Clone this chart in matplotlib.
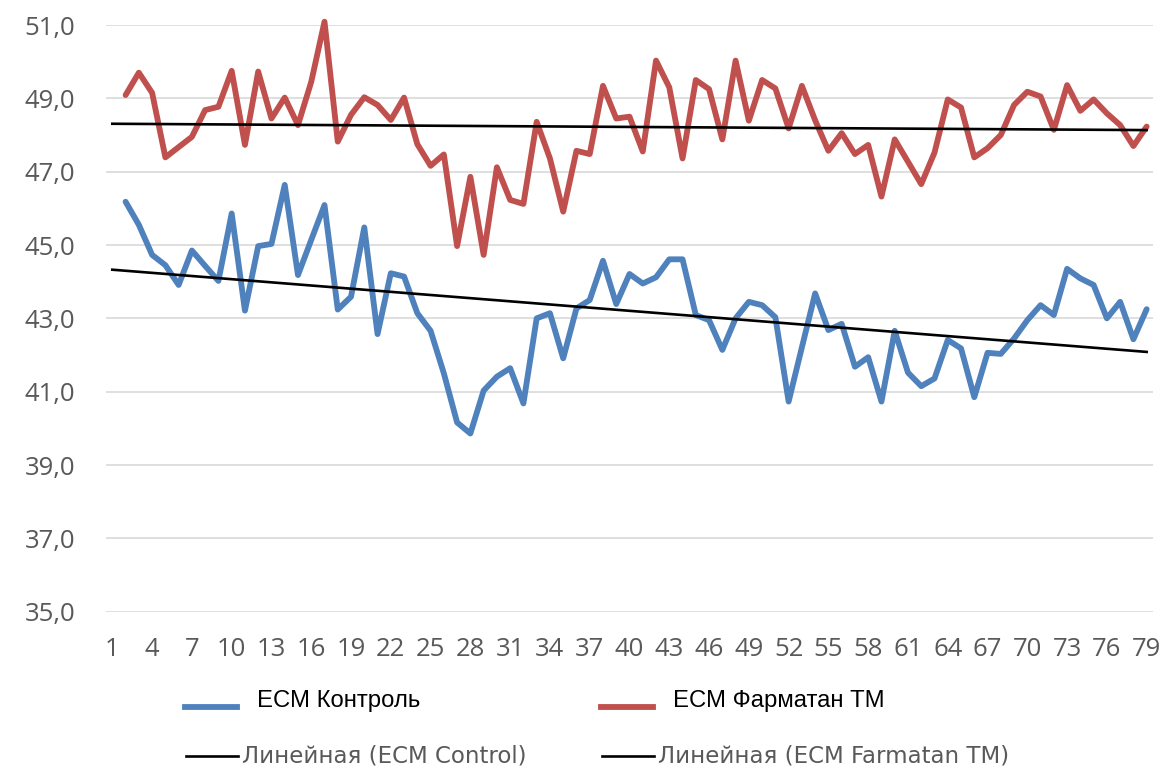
import numpy as np
import matplotlib
matplotlib.use('Agg')
import matplotlib.pyplot as plt
from matplotlib.lines import Line2D

W, H = 1163, 768

categories = list(range(1, 80))
# first category has no measurement
control = [np.nan,
           46.18, 45.55, 44.73, 44.45, 43.91, 44.85, 44.43, 44.02, 45.86, 43.21,
           44.97, 45.03, 46.64, 44.18, 45.14, 46.09, 43.24, 43.59, 45.48, 42.57,
           44.23, 44.14, 43.14, 42.66, 41.50, 40.16, 39.86, 41.03, 41.41, 41.64,
           40.68, 43.00, 43.14, 41.91, 43.27, 43.50, 44.57, 43.39, 44.21, 43.95,
           44.12, 44.61, 44.61, 43.09, 42.95, 42.14, 43.00, 43.45, 43.36, 43.03,
           40.73, 42.21, 43.68, 42.68, 42.85, 41.68, 41.94, 40.73, 42.66, 41.52,
           41.15, 41.36, 42.41, 42.18, 40.85, 42.06, 42.03, 42.45, 42.95, 43.36,
           43.09, 44.35, 44.09, 43.91, 43.00, 43.45, 42.43, 43.25]
farmatan = [np.nan,
            49.09, 49.70, 49.15, 47.39, 47.67, 47.95, 48.68, 48.77, 49.75, 47.73,
            49.73, 48.45, 49.02, 48.27, 49.45, 51.09, 47.82, 48.55, 49.03, 48.82,
            48.41, 49.02, 47.75, 47.16, 47.47, 44.97, 46.86, 44.73, 47.12, 46.23,
            46.12, 48.36, 47.36, 45.91, 47.57, 47.48, 49.34, 48.45, 48.50, 47.55,
            50.03, 49.30, 47.36, 49.50, 49.25, 47.88, 50.03, 48.39, 49.50, 49.27,
            48.18, 49.34, 48.40, 47.57, 48.05, 47.48, 47.73, 46.32, 47.88, 47.27,
            46.66, 47.52, 48.97, 48.75, 47.39, 47.64, 48.00, 48.82, 49.18, 49.05,
            48.14, 49.36, 48.66, 48.97, 48.59, 48.27, 47.70, 48.23]

series_names = ['ЕСМ Контроль', 'ЕСМ Фарматан ТМ']
trend_names = ['Линейная (ЕСМ Control)', 'Линейная (ЕСМ Farmatan TM)']
colors = ['#4F81BD', '#C0504D']

x = np.array(categories, dtype=float)

fig = plt.figure(figsize=(W / 100, H / 100), dpi=100)
ax = fig.add_axes([105.7 / W, 1 - 611.7 / H, (1153.3 - 105.7) / W, (611.7 - 25) / H])

for vals, c in zip([control, farmatan], colors):
    y = np.array(vals, dtype=float)
    ax.plot(x, y, color=c, lw=4.2, solid_joinstyle='round', solid_capstyle='round',
            clip_on=False, zorder=3)
for vals in [control, farmatan]:
    y = np.array(vals, dtype=float)
    ok = ~np.isnan(y)
    k, b = np.polyfit(x[ok], y[ok], 1)
    ax.plot([x[0], x[-1]], [k * x[0] + b, k * x[-1] + b], color='black', lw=1.9, zorder=4)

ax.set_xlim(0.5, 79.5)
ax.set_ylim(35, 51)
ax.set_yticks(np.arange(35, 51.1, 2))
ax.set_yticklabels([f'{v:.1f}'.replace('.', ',') for v in np.arange(35, 51.1, 2)])
ax.set_xticks(categories[::3])
ax.set_xticklabels([str(c) for c in categories[::3]])
ax.grid(axis='y', color='#D9D9D9', lw=1.2)
ax.set_axisbelow(True)
for s in ax.spines.values():
    s.set_visible(False)
ax.tick_params(length=0, labelsize=18.5, labelcolor='#595959')
ax.tick_params(axis='x', pad=18)
ax.tick_params(axis='y', pad=22)
for lab in ax.get_xticklabels() + ax.get_yticklabels():
    lab.set_fontfamily('Open Sans')

# legend, two rows
def px(xp, yp):
    return xp / W, 1 - yp / H

row1_y, row2_y = 706.5, 756
for i, (name, c) in enumerate(zip(series_names, colors)):
    x0 = 185 + i * 416
    fig.add_artist(Line2D([px(x0, 0)[0], px(x0 + 52, 0)[0]], [px(0, row1_y)[1]] * 2,
                          color=c, lw=4.2, transform=fig.transFigure))
    fig.text(*px(x0 + 72, row1_y - 6), name, fontsize=17.2, family='Liberation Sans',
             color='black', va='center', ha='left')
for i, name in enumerate(trend_names):
    x0 = 186 + i * 416
    fig.add_artist(Line2D([px(x0, 0)[0], px(x0 + 52, 0)[0]], [px(0, row2_y)[1]] * 2,
                          color='black', lw=1.9, transform=fig.transFigure))
    fig.text(*px(x0 + 56, row2_y), name, fontsize=16.5, family='DejaVu Sans',
             color='#595959', va='center', ha='left')

fig.savefig('out.png', dpi=100)
